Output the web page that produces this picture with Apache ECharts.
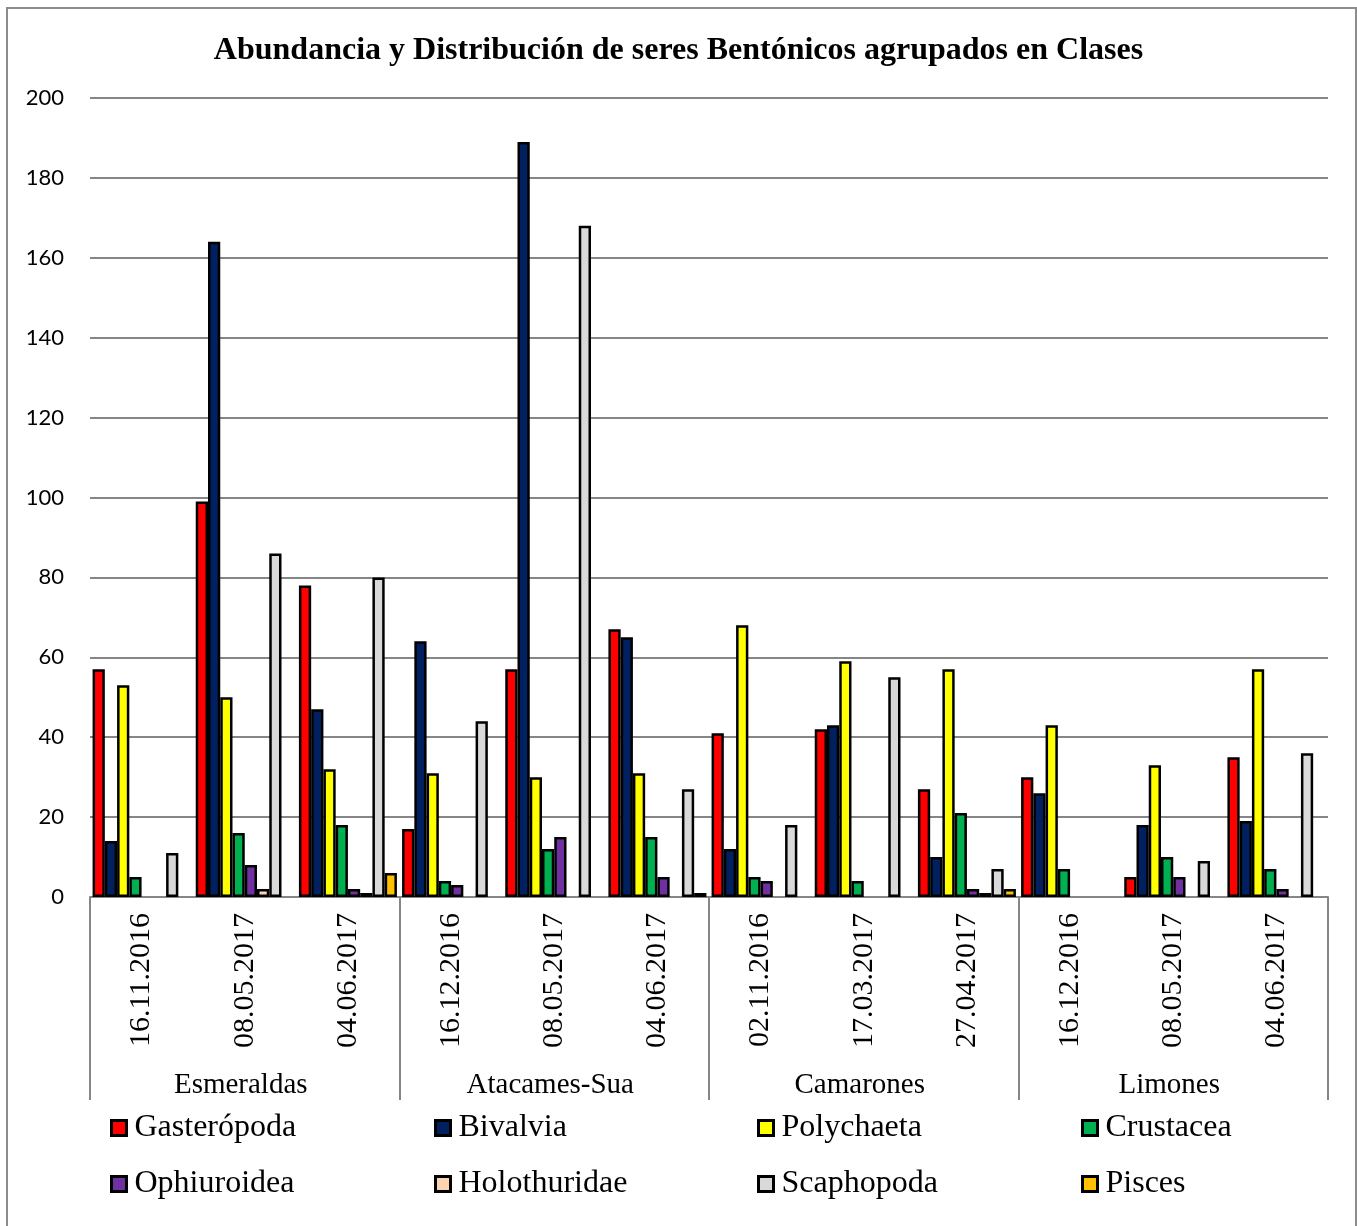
<!DOCTYPE html>
<html>
<head>
<meta charset="utf-8">
<script src="https://cdn.jsdelivr.net/npm/echarts@6/dist/echarts.min.js"></script>
<style>
  html, body { margin: 0; padding: 0; background: #fff; }
  #chart { width: 1357px; height: 1226px; }
</style>
</head>
<body>
<div id="chart"></div>
<script>
// Sampling dates (inner level) and sites (outer level)
const dates = ['16.11.2016', '08.05.2017', '04.06.2017',
               '16.12.2016', '08.05.2017', '04.06.2017',
               '02.11.2016', '17.03.2017', '27.04.2017',
               '16.12.2016', '08.05.2017', '04.06.2017'];
const sites = ['Esmeraldas', 'Atacames-Sua', 'Camarones', 'Limones'];

// Abundance per class (null = not recorded)
const gasteropoda  = [57, 99, 78, 17, 57, 67, 41, 42, 27, 30, 5, 35];
const bivalvia     = [14, 164, 47, 64, 189, 65, 12, 43, 10, 26, 18, 19];
const polychaeta   = [53, 50, 32, 31, 30, 31, 68, 59, 57, 43, 33, 57];
const crustacea    = [5, 16, 18, 4, 12, 15, 5, 4, 21, 7, 10, 7];
const ophiuroidea  = [null, 8, 2, 3, 15, 5, 4, null, 2, null, 5, 2];
const holothuridae = [null, 2, 1, null, null, null, null, null, 1, null, null, null];
const scaphopoda   = [11, 86, 80, 44, 168, 27, 18, 55, 7, null, 9, 36];
const pisces       = [null, null, 6, null, null, 1, null, null, 2, null, null, null];

const yTicks = { min: 0, max: 200, interval: 20 };

const classes = [
  { name: 'Gasterópoda',  data: gasteropoda,  color: '#FF0000' },
  { name: 'Bivalvia',     data: bivalvia,     color: '#002060' },
  { name: 'Polychaeta',   data: polychaeta,   color: '#FFFF00' },
  { name: 'Crustacea',    data: crustacea,    color: '#00B050' },
  { name: 'Ophiuroidea',  data: ophiuroidea,  color: '#7030A0' },
  { name: 'Holothuridae', data: holothuridae, color: '#FBD4B4' },
  { name: 'Scaphopoda',   data: scaphopoda,   color: '#D9D9D9' },
  { name: 'Pisces',       data: pisces,       color: '#FFC000' }
];

const serif = '"Liberation Serif", "Times New Roman", serif';
const sans = 'Lato, "Liberation Sans", Arial, sans-serif';
const gridGray = '#868686';

// Four legend columns, two rows each
const legendCols = [110, 434, 757, 1081];
const legends = legendCols.map((x, i) => ({
  orient: 'vertical',
  left: x,
  top: 1112,
  padding: 0,
  itemWidth: 15,
  itemHeight: 15,
  itemGap: 24,
  icon: 'rect',
  selectedMode: false,
  itemStyle: { borderColor: '#000', borderWidth: 3 },
  data: [classes[i].name, classes[i + 4].name],
  textStyle: { fontFamily: serif, fontSize: 32, color: '#000', padding: [0, 0, 0, 3] }
}));

const chart = echarts.init(document.getElementById('chart'), null, { renderer: 'canvas' });

chart.setOption({
  animation: false,
  backgroundColor: '#fff',
  title: {
    text: 'Abundancia y Distribución de seres Bentónicos agrupados en Clases',
    left: 'center',
    top: 30,
    textStyle: { fontFamily: serif, fontSize: 32, fontWeight: 'bold', color: '#000' }
  },
  graphic: [{
    type: 'rect',
    shape: { x: 7, y: 8, width: 1349, height: 1230 },
    style: { fill: null, stroke: '#8c8c8c', lineWidth: 2 },
    silent: true,
    z: -1
  }],
  legend: legends,
  grid: { left: 90, right: 29, top: 98, bottom: 329, containLabel: false },
  xAxis: [
    {
      type: 'category',
      data: dates,
      boundaryGap: true,
      axisLine: { show: true, lineStyle: { color: gridGray, width: 2 } },
      axisTick: { show: false },
      axisLabel: {
        rotate: 90,
        margin: 16,
        interval: 0,
        fontFamily: serif,
        fontSize: 30,
        color: '#000'
      }
    },
    {
      type: 'category',
      data: sites,
      position: 'bottom',
      offset: 0,
      boundaryGap: true,
      axisLine: { show: false },
      axisTick: { show: true, length: 203, lineStyle: { color: gridGray, width: 2 } },
      axisLabel: {
        margin: 174,
        interval: 0,
        fontFamily: serif,
        fontSize: 29,
        color: '#000',
        padding: [0, 8, 0, 0]
      },
      splitLine: { show: false }
    }
  ],
  yAxis: {
    type: 'value',
    min: yTicks.min,
    max: yTicks.max,
    interval: yTicks.interval,
    axisLine: { show: false },
    axisTick: { show: false },
    axisLabel: { margin: 26, fontFamily: sans, fontSize: 22, color: '#000' },
    splitLine: { show: true, lineStyle: { color: gridGray, width: 2 } }
  },
  series: classes.map(c => ({
    type: 'bar',
    name: c.name,
    data: c.data,
    xAxisIndex: 0,
    barGap: '0%',
    barCategoryGap: '5%',
    itemStyle: { color: c.color, borderColor: '#000', borderWidth: 2.5 }
  }))
});
</script>
</body>
</html>
